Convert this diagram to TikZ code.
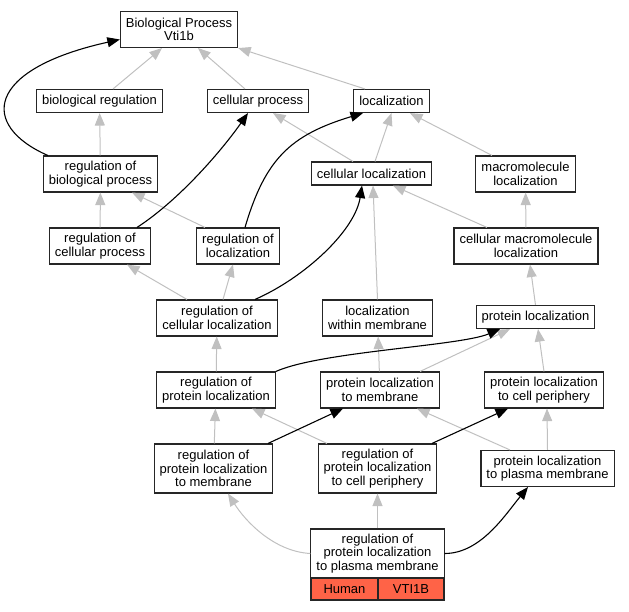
\documentclass[tikz,border=0pt]{standalone}
\usepackage{fontspec}
\setmainfont{Liberation Sans}
\usetikzlibrary{arrows.meta}

\definecolor{isagray}{RGB}{192,192,192}
\definecolor{tomato}{RGB}{255,99,71}

\tikzset{
  term/.style={draw=black!85, line width=1.1pt, fill=white, align=center,
    inner xsep=5.5pt, inner ysep=2pt, minimum height=23pt,
    font=\fontsize{13}{13.5}\selectfont},
  term2/.style={term, minimum height=36pt},
  term3/.style={term, minimum height=49pt},
  isa/.style={isagray, line width=1pt, -{Triangle[length=12.5pt,width=10pt]}},
  reg/.style={black, line width=1.1pt, -{Triangle[length=12.5pt,width=10pt]}}
}

\begin{document}
\begin{tikzpicture}[x=1pt, y=-1pt]
\useasboundingbox (0,0) rectangle (629,611);

% terms
\node[term2] (bp) at (179,29.5) {Biological Process\\Vti1b};
\node[term] (bioreg) at (99.5,101) {biological regulation};
\node[term] (cellproc) at (258,101) {cellular process};
\node[term] (loc) at (391.5,101) {localization};
\node[term2] (regbio) at (100.5,174) {regulation of\\biological process};
\node[term] (cellloc) at (371.5,173.5) {cellular localization};
\node[term2] (macroloc) at (525.5,174) {macromolecule\\localization};
\node[term2] (regcellproc) at (100,246) {regulation of\\cellular process};
\node[term2] (regloc) at (238,246) {regulation of\\localization};
\node[term2] (cellmacro) at (526,246) {cellular macromolecule\\localization};
\node[term2] (regcellloc) at (217,318) {regulation of\\cellular localization};
\node[term2] (locwithin) at (377.5,318) {localization\\within membrane};
\node[term] (protloc) at (535.5,317) {protein localization};
\node[term2] (regprotloc) at (216,390) {regulation of\\protein localization};
\node[term2] (protlocmem) at (380,390) {protein localization\\to membrane};
\node[term2] (protloccp) at (544,390) {protein localization\\to cell periphery};
\node[term3] (regprotlocmem) at (213.5,468.5) {regulation of\\protein localization\\to membrane};
\node[term3] (regprotloccp) at (377.5,468.5) {regulation of\\protein localization\\to cell periphery};
\node[term2] (protlocpm) at (547.5,468.5) {protein localization\\to plasma membrane};
\node[term3, minimum width=133pt] (gene) at (377.5,553.5) {regulation of\\protein localization\\to plasma membrane};
\node[term, fill=tomato, minimum width=67pt, minimum height=22pt] (human) at (344.5,589) {Human};
\node[term, fill=tomato, minimum width=66pt, minimum height=22pt] (vti) at (411,589) {VTI1B};

% is_a edges
\draw[isa] ([xshift=13.5pt]bioreg.north) -- ([xshift=-17pt]bp.south);
\draw[isa] ([xshift=-13pt]cellproc.north) -- ([xshift=19pt]bp.south);
\draw[isa] ([xshift=-26.5pt]loc.north) -- (bp.south east);
\draw[isa] (regbio) -- (bioreg);
\draw[isa] ([xshift=-18.5pt]cellloc.north) -- ([xshift=15pt]cellproc.south);
\draw[isa] ([xshift=3.5pt]cellloc.north) -- (loc.south);
\draw[isa] ([xshift=-33.5pt]macroloc.north) -- ([xshift=18.5pt]loc.south);
\draw[isa] (regcellproc) -- (regbio);
\draw[isa] ([xshift=-33pt]regloc.north) -- ([xshift=31.5pt]regbio.south);
\draw[isa] (cellmacro) -- (macroloc);
\draw[isa] ([xshift=-39pt]cellmacro.north) -- ([xshift=21.5pt]cellloc.south);
\draw[isa] ([xshift=-30pt]regcellloc.north) -- ([xshift=27pt]regcellproc.south);
\draw[isa] ([xshift=6pt]regcellloc.north) -- ([xshift=-5pt]regloc.south);
\draw[isa] (locwithin.north) -- ([xshift=1.5pt]cellloc.south);
\draw[isa] (protloc.north) -- ([xshift=4pt]cellmacro.south);
\draw[isa] (regprotloc) -- (regcellloc);
\draw[isa] (protlocmem) -- (locwithin);
\draw[isa] ([xshift=40pt]protlocmem.north) -- ([xshift=-25.5pt]protloc.south);
\draw[isa] (protloccp.north) -- ([xshift=2.5pt]protloc.south);
\draw[isa] (regprotlocmem) -- (regprotloc);
\draw[isa] ([xshift=-50.5pt]regprotloccp.north) -- ([xshift=36pt]regprotloc.south);
\draw[isa] ([xshift=-37.5pt]protlocpm.north) -- ([xshift=37pt]protlocmem.south);
\draw[isa] (protlocpm.north) -- ([xshift=3pt]protloccp.south);
\draw[isa] (gene.west) .. controls +(-37,-2) and +(17,27) .. ([xshift=14.5pt]regprotlocmem.south);
\draw[isa] (gene.north) -- (regprotloccp.south);

% regulates edges
\draw[reg] ([xshift=5pt]regbio.north west) .. controls +(-68,-30) and +(-135,30) .. ([yshift=-10pt]bp.west);
\draw[reg] ([xshift=37pt]regcellproc.north) .. controls +(43,-28) and +(-26,37) .. ([xshift=-10pt]cellproc.south);
\draw[reg] ([xshift=7pt]regloc.north) .. controls +(20,-68) and +(-73,22) .. ([xshift=-28.5pt]loc.south);
\draw[reg] ([xshift=38pt]regcellloc.north) .. controls +(50,-22) and +(-7,45) .. ([xshift=-9.5pt]cellloc.south);
\draw[reg] (regprotloc.north east) .. controls +(45,-20) and +(-40,17) .. ([xshift=-35.5pt]protloc.south);
\draw[reg] ([xshift=54.5pt]regprotlocmem.north) -- ([xshift=-37pt]protlocmem.south);
\draw[reg] ([xshift=54.5pt]regprotloccp.north) -- ([xshift=-36pt]protloccp.south);
\draw[reg] (gene.east) .. controls +(36,0) and +(-23,28) .. ([xshift=-19.5pt]protlocpm.south);

\end{tikzpicture}
\end{document}
